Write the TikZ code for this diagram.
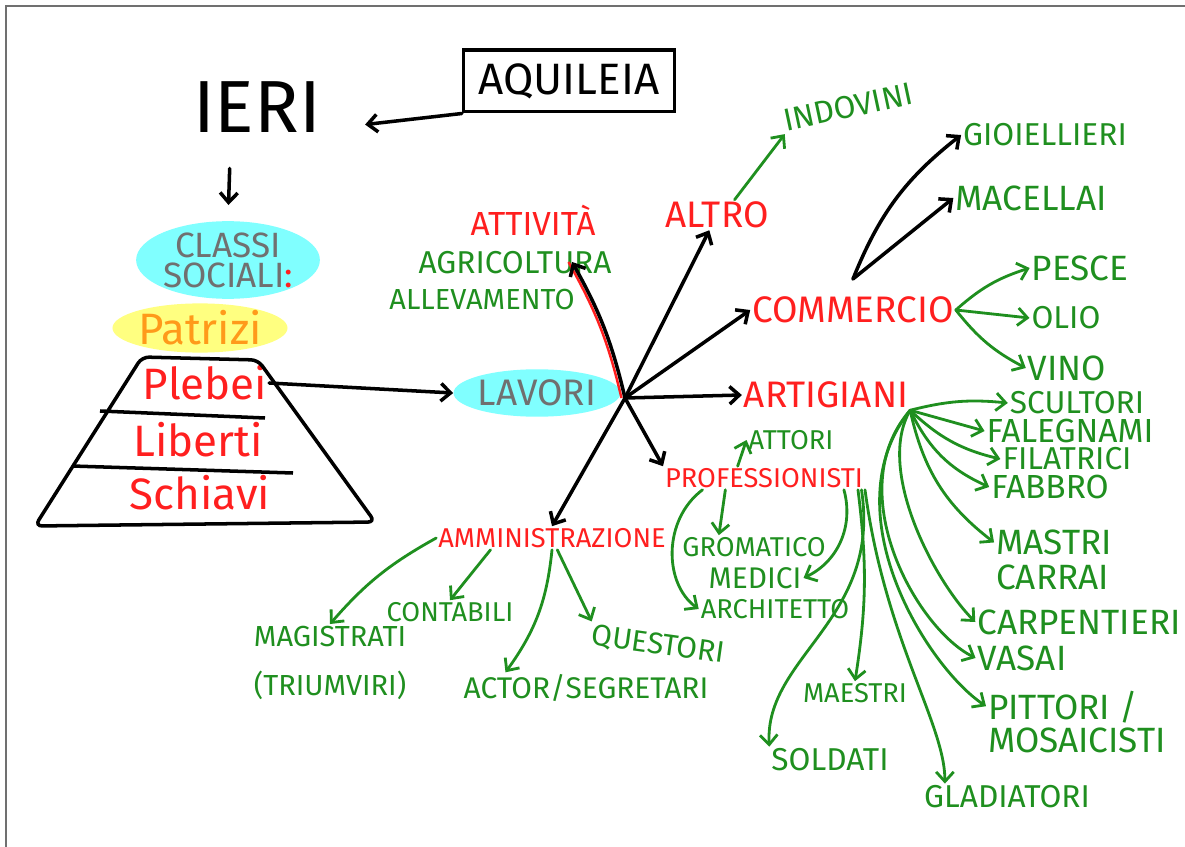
\documentclass[tikz,border=0pt]{standalone}
\usepackage{fontspec}
\setmainfont{Fira Sans}
\usetikzlibrary{shapes.geometric}
\usetikzlibrary{arrows.meta}

\definecolor{myred}{HTML}{FF1F1F}
\definecolor{mygreen}{HTML}{1F8F1F}
\definecolor{mygrey}{HTML}{707070}
\definecolor{mycyan}{HTML}{80FFFF}
\definecolor{myyellow}{HTML}{FFFF80}
\definecolor{myorange}{HTML}{FF9A1A}

\begin{document}
\begin{tikzpicture}[x=0.02cm,y=-0.02cm]

\tikzset{rlabel/.style = {text=myred, inner sep=1pt, font=\fontsize{21}{21}\selectfont}}
\tikzset{rsmall/.style = {rlabel, font=\fontsize{15.5}{15.5}\selectfont}}
\tikzset{glabel/.style = {text=mygreen, inner sep=1pt, font=\fontsize{18}{18}\selectfont}}
\tikzset{gsmall/.style = {glabel, font=\fontsize{15.5}{15.5}\selectfont}}
\tikzset{gbig/.style = {glabel, font=\fontsize{20}{20}\selectfont}}
\tikzset{blob/.style = {shape=ellipse, inner sep=0pt, text=mygrey}}
\tikzset{edge/.style = {-{Straight Barb[length=5.5pt,width=10pt]}, line width=2pt, line cap=round, line join=round}}
\tikzset{gedge/.style = {edge, draw=mygreen, line width=1.6pt}}

\useasboundingbox (0,0) rectangle (1185,847);
\draw[mygrey, line width=0.8pt] (6,847) -- (6,6) -- (1185,6);

% left part
\node[inner xsep=25pt, font=\fontsize{42}{42}\selectfont] (ieri) at (257,107) {IERI};
\node[draw, line width=2pt, minimum width=120pt, minimum height=35pt,
      font=\fontsize{25}{25}\selectfont] (aquileia) at (569,81) {AQUILEIA};
\node[blob, fill=mycyan, minimum width=92pt, minimum height=35pt, align=center,
      font=\fontsize{20}{17}\selectfont] (classi) at (228,260) {CLASSI\\SOCIALI\textcolor{myred}{:}};
\node[blob, fill=myyellow, text=myorange, minimum width=85pt, minimum height=24pt,
      font=\fontsize{25}{25}\selectfont] (patrizi) at (200,328) {Patrizi};
\node[rlabel, font=\fontsize{25}{25}\selectfont] (plebei) at (205,383) {Plebei};
\node[rlabel, font=\fontsize{25}{25}\selectfont] (liberti) at (198,440) {Liberti};
\node[rlabel, font=\fontsize{25}{25}\selectfont] (schiavi) at (200,493) {Schiavi};
\node[blob, fill=mycyan, minimum width=77pt, minimum height=27pt,
      font=\fontsize{21}{21}\selectfont] (lavori) at (537,393) {LAVORI};

% pyramid
\draw[line width=2pt, rounded corners=4pt] (142,357) -- (258,360) -- (375,522) -- (35,526) -- cycle;
\draw[line width=2pt] (100,411) -- (265,418);
\draw[line width=2pt] (72,466) -- (293,473);

% lavori
\coordinate (hub) at (625,398);
\coordinate (atip) at (572,262);
\node[rlabel, font=\fontsize{19}{19}\selectfont] (attivita) at (533,220) {ATTIVITÀ};
\node[glabel] (agricoltura) at (515,263) {AGRICOLTURA};
\node[gsmall, font=\fontsize{16.5}{16.5}\selectfont] (allevamento) at (482,300) {ALLEVAMENTO};
\node[rlabel] (altro) at (717,215) {ALTRO};
\node[glabel, rotate=12] (indovini) at (848,107) {INDOVINI};
\node[rlabel] (commercio) at (853,310) {COMMERCIO};
\node[glabel] (gioiellieri) at (1045,135) {GIOIELLIERI};
\node[gbig] (macellai) at (1031,198) {MACELLAI};
\node[gbig] (pesce) at (1080,268) {PESCE};
\node[glabel] (olio) at (1066,318) {OLIO};
\node[gbig] (vino) at (1067,368) {VINO};
\node[rlabel] (artigiani) at (826,395) {ARTIGIANI};
\node[glabel] (scultori) at (1077,403) {SCULTORI};
\node[gbig, font=\fontsize{19}{19}\selectfont] (falegnami) at (1070,431) {FALEGNAMI};
\node[glabel] (filatrici) at (1067,459) {FILATRICI};
\node[gbig, font=\fontsize{19}{19}\selectfont] (fabbro) at (1050,487) {FABBRO};
\node[gbig, align=left] (mastri) at (1054,560) {MASTRI\\CARRAI};
\node[gbig] (carpentieri) at (1079,622) {CARPENTIERI};
\node[gbig] (vasai) at (1022,658) {VASAI};
\node[gbig, align=left, font=\fontsize{20}{19}\selectfont] (pittori) at (1077,722) {PITTORI /\\MOSAICISTI};
\node[glabel] (gladiatori) at (1007,797) {GLADIATORI};
\node[rsmall] (professionisti) at (764,478) {PROFESSIONISTI};
\node[gsmall] (attori) at (791,440) {ATTORI};
\node[gsmall] (gromatico) at (754,547) {GROMATICO};
\node[glabel, font=\fontsize{17}{17}\selectfont] (medici) at (755,578) {MEDICI};
\node[gsmall] (architetto) at (775,609) {ARCHITETTO};
\node[gsmall] (maestri) at (855,693) {MAESTRI};
\node[glabel] (soldati) at (830,760) {SOLDATI};
\node[rsmall] (amministrazione) at (552,538) {AMMINISTRAZIONE};
\node[glabel, align=center, font=\fontsize{16.5}{28}\selectfont] (magistrati) at (330,663) {MAGISTRATI\\(TRIUMVIRI)};
\node[gsmall] (contabili) at (450,612) {CONTABILI};
\node[glabel, font=\fontsize{17}{17}\selectfont] (actor) at (586,688) {ACTOR/SEGRETARI};
\node[glabel, font=\fontsize{17}{17}\selectfont, rotate=-8] (questori) at (658,645) {QUESTORI};

%edges
\draw[edge] (aquileia.south west) -- ([yshift=-10pt]ieri.east);
\draw[edge, shorten <=17pt, shorten >=9pt] ([xshift=-15pt]ieri.south) -- (classi.north);
\draw[edge] (plebei.east) -- (lavori.west);
\draw[myred, line width=1.4pt, transform canvas={xshift=-2pt}] (hub) to[bend right=8] (atip);
\draw[edge] (hub) to[bend right=8] (atip);
\draw[edge] (hub) -- (altro);
\draw[edge] (hub) -- (commercio.west);
\draw[edge] (hub) -- (artigiani.west);
\draw[edge] (hub) -- (professionisti.north west);
\draw[edge] (hub) -- (amministrazione.north);

\draw[gedge] ([xshift=10pt]altro.north) -- (indovini.south west);
\draw[edge] ([yshift=9pt]commercio.north) to[bend left=15] (gioiellieri.west);
\draw[edge] ([yshift=9pt]commercio.north) -- (macellai.west);
\draw[gedge] (commercio.east) to[bend left=12] (pesce.west);
\draw[gedge] (commercio.east) -- (olio.west);
\draw[gedge] (commercio.east) to[bend right=12] (vino.west);

\draw[gedge] (artigiani.south east) to[bend left=10] (scultori.west);
\draw[gedge] (artigiani.south east) -- (falegnami.west);
\draw[gedge] (artigiani.south east) to[bend right=15] (filatrici.west);
\draw[gedge] (artigiani.south east) to[bend right=20] (fabbro.west);
\draw[gedge] (artigiani.south east) to[bend right=20] ([yshift=10pt]mastri.west);
\draw[gedge] (artigiani.south east) .. controls +(-35,60) and +(-40,-40) .. (carpentieri.west);
\draw[gedge] (artigiani.south east) .. controls +(-70,80) and +(-60,-30) .. (vasai.west);
\draw[gedge] (artigiani.south east) .. controls +(-80,100) and +(-60,-40) .. ([yshift=9pt]pittori.west);

\draw[gedge] ([xshift=-15pt]professionisti.north) -- (attori.west);
\draw[gedge] ([xshift=-22pt]professionisti.south) -- ([xshift=-20pt]gromatico.north);
\draw[gedge] ([xshift=-35pt]professionisti.south) .. controls +(-40,30) and +(-35,-25) .. (architetto.west);
\draw[gedge] ([xshift=-12pt]professionisti.south east) to[bend left=40] (medici.east);
\draw[gedge] ([xshift=-4pt]professionisti.south east) to[bend left=8] (maestri.north);
\draw[gedge] ([xshift=-2pt]professionisti.south east) .. controls +(20,130) and +(-5,-90) .. (soldati.north west);
\draw[gedge] (professionisti.south east) .. controls +(20,150) and +(0,-60) .. ([xshift=13pt]gladiatori.north west);

\draw[gedge] (amministrazione.west) to[bend right=10] (magistrati.north);
\draw[gedge] ([xshift=-35pt]amministrazione.south) -- (contabili.north);
\draw[gedge] (amministrazione.south) to[bend left=15] ([xshift=25pt]actor.north west);
\draw[gedge] ([xshift=3pt]amministrazione.south) -- (questori.north west);

\end{tikzpicture}
\end{document}
